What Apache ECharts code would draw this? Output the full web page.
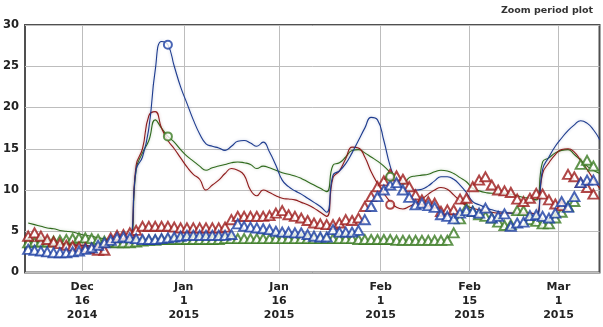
<!DOCTYPE html>
<html><head><meta charset="utf-8">
<script src="https://cdn.jsdelivr.net/npm/echarts@6/dist/echarts.min.js"></script>
<style>html,body{margin:0;padding:0;background:#fff}#chart{width:603px;height:327px}</style>
</head><body><div id="chart"></div>
<script>
// Daily series start at noon of this date; the axis starts at its midnight.
const startDate = '2014-12-07';
const axisEnd = '2015-03-07T11:00:00Z';

const tickDates = ['2014-12-16', '2015-01-01', '2015-01-16', '2015-02-01', '2015-02-15', '2015-03-01'];
const tickLabels = ['Dec\n16\n2014', 'Jan\n1\n2015', 'Jan\n16\n2015', 'Feb\n1\n2015', 'Feb\n15\n2015', 'Mar\n1\n2015'];

// Smooth curves, one value per day
const blueLine = [3.8,3.7,3.6,3.5,3.5,3.4,3.4,3.3,3.3,3.2,3.2,3.1,3.1,3.1,3.1,3.2,3.4,
  12.5,14.0,17.5,24.5,28.0,27.6,25.0,22.5,20.5,18.5,16.8,15.6,15.3,15.1,14.8,15.3,15.9,16.0,15.7,15.3,15.8,14.6,13.0,
  11.2,10.4,9.9,9.5,9.0,8.5,8.0,7.3,11.8,12.3,13.2,14.5,16.0,17.5,18.8,18.5,16.0,12.9,11.0,10.2,
  10.0,10.0,10.1,10.5,11.1,11.6,11.6,11.3,10.6,9.7,8.6,8.2,7.9,7.6,7.4,7.3,7.2,7.1,7.0,6.9,
  6.8,12.5,14.0,15.3,16.3,17.2,17.9,18.4,18.1,17.3,16.1];
const redLine = [3.9,3.8,3.7,3.6,3.5,3.5,3.4,3.4,3.3,3.3,3.2,3.2,3.1,3.1,3.1,3.2,3.4,
  13.0,15.0,19.0,19.5,17.5,16.0,15.0,13.9,12.8,11.9,11.3,10.0,10.6,11.2,12.0,12.6,12.4,11.8,10.0,9.3,10.0,9.7,9.3,
  9.0,8.9,8.8,8.5,8.2,7.8,7.3,6.8,11.5,12.3,13.8,15.2,15.1,14.0,12.2,10.8,9.6,8.6,7.9,7.7,
  8.0,8.4,8.9,9.5,10.0,10.3,10.1,9.4,8.7,8.1,7.8,7.6,7.4,7.3,7.2,7.2,7.2,7.2,7.2,7.2,
  7.1,12.0,13.3,14.3,14.9,15.0,14.6,13.6,12.5,11.3,10.2];
const greenLine = [6.0,5.8,5.6,5.4,5.3,5.1,5.0,4.9,4.7,4.5,4.4,4.2,4.1,3.9,3.8,3.7,3.6,
  12.5,14.5,16.0,18.5,17.5,16.5,15.8,14.9,14.1,13.5,12.9,12.4,12.7,12.9,13.1,13.3,13.4,13.3,13.1,12.6,12.9,12.7,12.4,
  12.1,11.9,11.7,11.4,11.0,10.6,10.2,9.8,13.0,13.3,14.0,14.8,14.9,14.5,14.0,13.5,12.9,12.1,11.2,10.7,
  11.5,11.7,11.8,11.9,12.2,12.4,12.3,12.0,11.5,11.0,10.2,9.9,9.7,9.6,9.6,9.6,9.5,9.3,9.1,9.0,
  8.8,13.4,13.9,14.5,14.8,14.9,14.3,13.6,12.9,12.4,12.0];

// Daily readings drawn as hollow triangles
const blueMarks = [2.8,2.7,2.6,2.5,2.4,2.4,2.4,2.5,2.6,2.8,3.0,3.3,3.6,3.9,4.2,4.3,4.2,4.1,4.0,4.0,
  4.0,4.1,4.2,4.3,4.4,4.5,4.5,4.5,4.5,4.5,4.5,4.5,4.6,5.9,5.6,5.5,5.4,5.3,5.2,5.0,
  4.9,4.9,4.8,4.8,4.6,4.4,4.3,4.3,5.2,4.9,4.9,4.9,5.1,6.4,8.0,9.2,10.0,10.6,10.9,10.0,
  9.1,8.2,8.4,8.1,7.9,7.0,6.8,6.5,7.2,7.5,7.4,7.2,7.8,6.6,6.8,7.1,5.6,6.0,6.1,6.9,
  7.0,6.8,6.6,7.2,8.6,7.9,9.2,10.9,11.2,11.2];
const redMarks = [4.4,4.8,4.4,4.0,3.7,3.5,3.3,3.2,3.1,3.0,2.9,2.7,2.7,4.2,4.5,4.6,4.8,5.1,5.6,5.6,
  5.6,5.6,5.6,5.5,5.4,5.4,5.4,5.4,5.4,5.4,5.4,5.5,6.4,6.8,6.8,6.8,6.8,6.8,6.9,7.2,
  7.5,7.0,6.8,6.6,6.3,6.0,5.9,5.8,5.8,6.0,6.4,6.3,6.6,8.0,9.2,10.4,11.1,11.9,11.7,11.3,
  10.4,9.4,8.8,8.6,8.4,7.4,7.6,7.6,8.9,9.0,10.4,11.2,11.6,10.6,10.0,9.9,9.7,8.9,8.6,9.0,
  9.6,9.5,8.8,8.3,8.1,11.9,11.6,10.9,10.3,9.5];
const greenMarks = [3.6,3.7,3.7,3.7,3.8,3.9,4.0,4.1,4.2,4.2,4.1,4.0,3.8,3.7,3.6,3.6,3.6,3.7,3.8,3.9,
  3.9,4.0,4.0,4.0,4.0,4.0,4.0,4.0,4.0,4.0,4.0,4.1,4.1,4.1,4.1,4.1,4.1,4.1,4.1,4.1,
  4.1,4.1,4.1,4.1,4.1,4.1,4.1,4.1,4.1,4.1,4.1,4.1,4.0,4.0,4.0,4.0,4.0,4.0,3.9,3.9,
  3.9,3.9,3.9,3.9,3.9,3.9,3.9,4.8,6.5,7.8,7.4,7.0,6.8,6.6,6.1,5.7,5.8,7.5,7.5,6.4,
  6.2,5.9,5.9,6.6,7.3,8.0,8.6,13.1,13.6,12.9];

// Highlighted points
const blueRings = [['2014-12-29', 27.6]];
const greenRings = [['2014-12-29', 16.5], ['2015-02-02', 11.6]];
const redRings = [['2015-02-02', 8.2]];

const DAY = 864e5;
const t0 = Date.parse(startDate);
const dayOf = s => (Date.parse(s) - t0) / DAY;
const daily = vals => vals.map((v, i) => [i + 0.5, v]);
const rings = pts => pts.map(p => [dayOf(p[0]) + 0.5, p[1]]);
const tickDays = tickDates.map(dayOf);

const BLUE = '#1d3b8e', RED = '#8e1b1b', GREEN = '#2f6a1c';
const BLUE_M = '#1b3fa3', RED_M = '#9c1a1a', GREEN_M = '#3a7b22';

function curve(name, vals, color) {
  return {
    name, type: 'line', data: daily(vals), showSymbol: false,
    smooth: 0.5, z: 2,
    lineStyle: { color, width: 1.1, shadowColor: color + '4d', shadowBlur: 3 }
  };
}
function marks(name, vals, color) {
  return {
    name, type: 'scatter', data: daily(vals), symbol: 'triangle', symbolSize: [10, 9], z: 3,
    itemStyle: { color: '#fff', borderColor: color, borderWidth: 2 }
  };
}
function ringSeries(name, pts, color) {
  return {
    name, type: 'scatter', data: rings(pts), symbol: 'circle', symbolSize: 8, z: 4,
    itemStyle: { color: '#fff', borderColor: color, borderWidth: 2 }
  };
}

const chart = echarts.init(document.getElementById('chart'), null, { renderer: 'canvas' });
chart.setOption({
  animation: false,
  textStyle: { fontFamily: 'DejaVu Sans' },
  title: {
    text: 'Zoom period plot', right: 5, top: 1,
    textStyle: { fontSize: 9.5, fontWeight: 'bold', color: '#333', fontFamily: 'DejaVu Sans' }
  },
  grid: { left: 25, right: 3.5, top: 25, bottom: 54.5, show: true, borderColor: '#505050', borderWidth: 2 },
  xAxis: {
    type: 'value', min: 0, max: dayOf(axisEnd),
    axisLine: { show: false },
    axisTick: { show: false, customValues: tickDays },
    splitLine: { show: true, lineStyle: { color: '#bdbdbd', width: 1 } },
    axisLabel: {
      customValues: tickDays, margin: 8,
      formatter: v => { const k = tickDays.findIndex(d => Math.abs(d - v) < 0.01); return k >= 0 ? tickLabels[k] : ''; },
      fontSize: 11, fontWeight: 'bold', color: '#222', lineHeight: 14, fontFamily: 'DejaVu Sans'
    }
  },
  yAxis: {
    type: 'value', min: 0, max: 30, interval: 5,
    axisLine: { show: false }, axisTick: { show: false },
    splitLine: { lineStyle: { color: '#bdbdbd', width: 1 } },
    axisLabel: { fontSize: 11.5, fontWeight: 'bold', color: '#222', margin: 6, fontFamily: 'DejaVu Sans' }
  },
  series: [
    curve('greenLine', greenLine, GREEN),
    curve('redLine', redLine, RED),
    curve('blueLine', blueLine, BLUE),
    marks('greenMarks', greenMarks, GREEN_M),
    marks('redMarks', redMarks, RED_M),
    marks('blueMarks', blueMarks, BLUE_M),
    ringSeries('greenRings', greenRings, GREEN_M),
    ringSeries('redRings', redRings, RED_M),
    ringSeries('blueRings', blueRings, BLUE_M)
  ]
});
</script>
</body></html>
